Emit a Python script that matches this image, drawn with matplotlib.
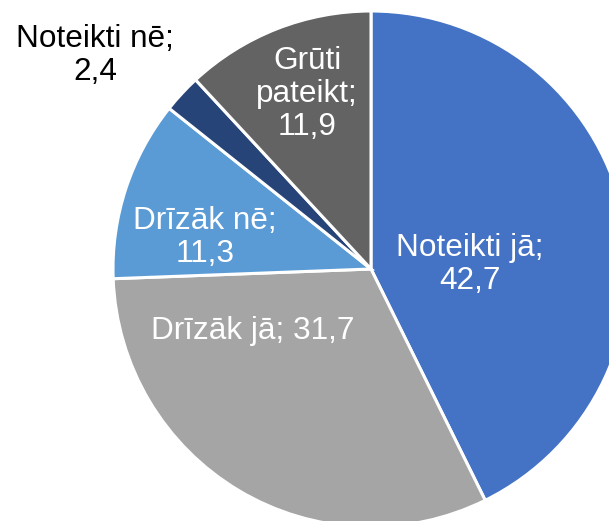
import matplotlib
matplotlib.use("Agg")
import matplotlib.pyplot as plt

categories = ["Noteikti jā", "Drīzāk jā", "Drīzāk nē", "Noteikti nē", "Grūti pateikt"]
values = [42.7, 31.7, 11.3, 2.4, 11.9]
label_texts = ["Noteikti jā;\n42,7", "Drīzāk jā; 31,7", "Drīzāk nē;\n11,3", "Noteikti nē;\n2,4", "Grūti\npateikt;\n11,9"]
colors = ["#4472C4", "#A5A5A5", "#5B9BD5", "#264478", "#636363"]
label_pos = [(0.384, 0.019), (-0.457, -0.240), (-0.643, 0.124), (-1.070, 0.829), (-0.248, 0.678)]
label_colors = ["white", "white", "white", "black", "white"]

plt.rcParams['font.family'] = ['Liberation Sans', 'DejaVu Sans']
fig = plt.figure(figsize=(6.09, 5.21), dpi=100)
ax = fig.add_axes([0, 0, 1, 1])
ax.pie(values, colors=colors, startangle=90, counterclock=False, radius=1,
       wedgeprops=dict(edgecolor="white", linewidth=2.2))
scale = 258.0
cx, cy = 371.0, 269.0
ax.set_xlim(-cx / scale, (609 - cx) / scale)
ax.set_ylim(-(521 - cy) / scale, cy / scale)
ax.set_aspect("auto")
ax.axis("off")
for txt, (x, y), c in zip(label_texts, label_pos, label_colors):
    ax.text(x, y, txt, ha="center", va="center", fontsize=22.7, color=c, linespacing=1.13)
fig.savefig("out.png", dpi=100)
